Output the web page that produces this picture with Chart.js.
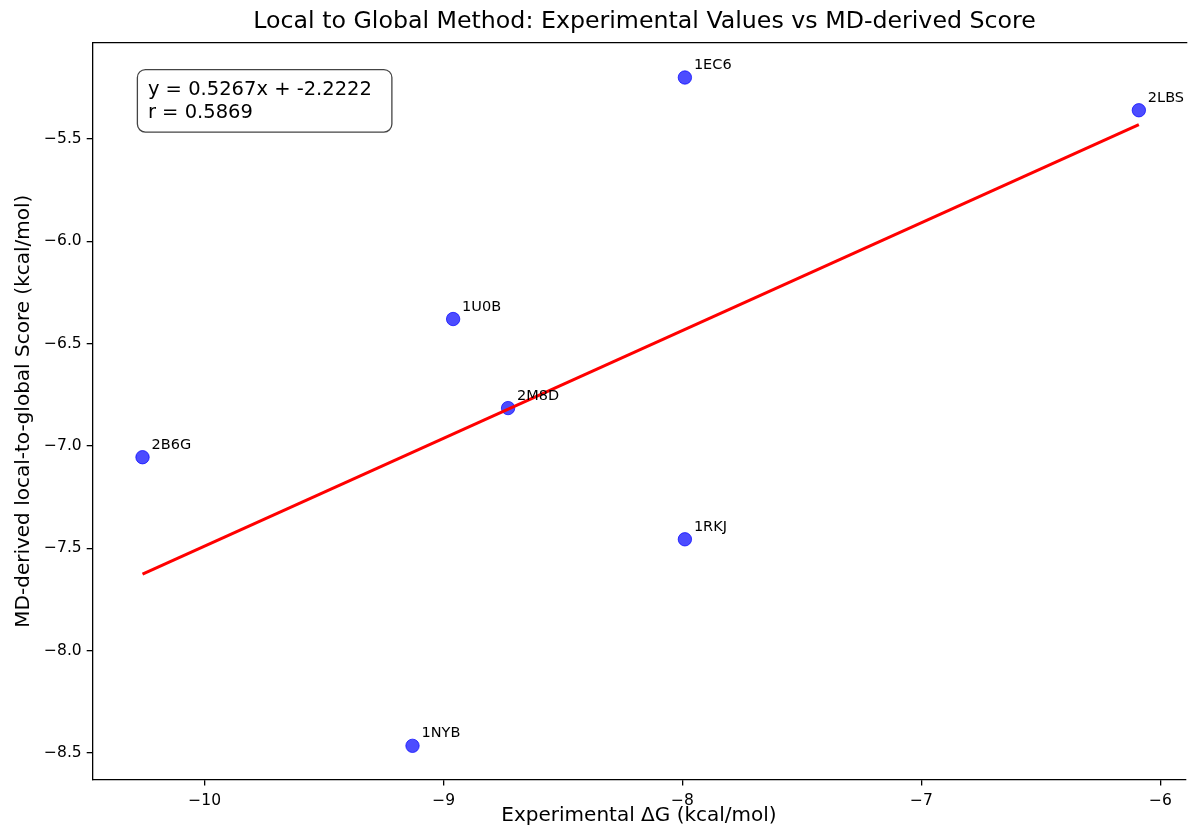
<!DOCTYPE html>
<html lang="en">
<head>
  <meta charset="UTF-8">
  <title>Local to Global Method</title>
  <script src="https://cdn.jsdelivr.net/npm/chart.js"></script>
  <style>
    body {
      margin: 0;
      padding: 0;
      background: #fff;
      overflow: hidden;
    }
    canvas {
      display: block;
    }
  </style>
</head>
<body>
  <canvas id="scatterChart" width="1193" height="832"></canvas>

  <script>
    // complexes and their values
    const pdbIds = ['1EC6', '2LBS', '1U0B', '2M8D', '2B6G', '1RKJ', '1NYB'];
    const experimentalDG = [-7.99, -6.09, -8.96, -8.73, -10.26, -7.99, -9.13];
    const mdScore = [-5.20, -5.36, -6.38, -6.815, -7.055, -7.456, -8.465];

    // fit line end points (y = 0.5267x + -2.2222)
    const fitX = [-10.26, -6.09];
    const fitY = [-7.626, -5.430];

    const fitText = ['y = 0.5267x + -2.2222', 'r = 0.5869'];
    const titleText = 'Local to Global Method: Experimental Values vs MD-derived Score';

    const xTicks = [-10, -9, -8, -7, -6];
    const yTicks = [-8.5, -8.0, -7.5, -7.0, -6.5, -6.0, -5.5];

    const FONT = "'DejaVu Sans', sans-serif";
    // full axes width (right spine is just outside the picture)
    const AX_W = 1103.7;

    function minus(s) {
      return s.replace('-', '\u2212');
    }

    const extras = {
      id: 'extras',
      afterDatasetsDraw(chart) {
        const ctx = chart.ctx;
        const area = chart.chartArea;
        const xs = chart.scales.x;
        const ys = chart.scales.y;

        // title, centred over the axes
        ctx.save();
        ctx.fillStyle = '#000';
        ctx.font = '23.7px ' + FONT;
        ctx.textAlign = 'center';
        ctx.textBaseline = 'middle';
        ctx.fillText(titleText, area.left + AX_W / 2, 22);
        ctx.restore();

        // point labels
        ctx.save();
        ctx.fillStyle = '#000';
        ctx.font = '14.5px ' + FONT;
        ctx.textBaseline = 'alphabetic';
        ctx.textAlign = 'left';
        pdbIds.forEach((id, i) => {
          const px = xs.getPixelForValue(experimentalDG[i]);
          const py = ys.getPixelForValue(mdScore[i]);
          ctx.fillText(id, px + 9, py - 8.5);
        });
        ctx.restore();

        // equation box (axes fraction 0.05, 0.95)
        const tx = area.left + 0.05 * AX_W;
        const ty = area.bottom - 0.95 * (area.bottom - area.top);
        ctx.save();
        ctx.beginPath();
        ctx.roundRect(tx - 10.5, ty - 10, 254.5, 62.5, 8);
        ctx.fillStyle = 'rgba(255,255,255,0.85)';
        ctx.fill();
        ctx.lineWidth = 1.3;
        ctx.strokeStyle = '#444';
        ctx.stroke();
        ctx.fillStyle = '#000';
        ctx.font = '19.5px ' + FONT;
        ctx.textBaseline = 'alphabetic';
        ctx.fillText(fitText[0], tx, ty + 15.5);
        ctx.fillText(fitText[1], tx, ty + 38);
        ctx.restore();

        // top spine
        ctx.save();
        ctx.strokeStyle = '#000';
        ctx.lineWidth = 1.3;
        ctx.beginPath();
        ctx.moveTo(area.left, area.top);
        ctx.lineTo(area.right + 2, area.top);
        ctx.stroke();
        ctx.restore();
      }
    };

    const points = experimentalDG.map((x, i) => ({ x: x, y: mdScore[i] }));
    const fitPoints = fitX.map((x, i) => ({ x: x, y: fitY[i] }));

    new Chart(document.getElementById('scatterChart').getContext('2d'), {
      type: 'scatter',
      data: {
        datasets: [
          {
            label: 'Fit',
            data: fitPoints,
            showLine: true,
            borderColor: '#ff0000',
            borderWidth: 3,
            pointRadius: 0,
            order: 0
          },
          {
            label: 'Data',
            data: points,
            backgroundColor: 'rgba(0,0,255,0.7)',
            borderColor: 'rgba(0,0,255,0.7)',
            borderWidth: 1,
            pointRadius: 6.7,
            order: 1
          }
        ]
      },
      options: {
        responsive: false,
        animation: false,
        layout: { padding: { left: 0, right: 0, top: 42.7, bottom: 0 } },
        plugins: {
          legend: { display: false },
          tooltip: { enabled: false },
          title: { display: false }
        },
        scales: {
          x: {
            type: 'linear',
            min: -10.4685,
            max: -5.8956,
            afterBuildTicks(scale) {
              scale.ticks = xTicks.map(v => ({ value: v }));
            },
            afterFit(scale) { scale.height = 52.4; },
            grid: {
              drawOnChartArea: false,
              drawTicks: true,
              tickLength: 6,
              color: '#000',
              lineWidth: 1.3
            },
            border: { display: true, color: '#000', width: 1.3 },
            ticks: {
              color: '#000',
              padding: 6,
              maxRotation: 0,
              font: { family: FONT, size: 15.5 },
              callback: v => minus(String(v))
            },
            title: {
              display: true,
              text: 'Experimental \u0394G (kcal/mol)',
              color: '#000',
              font: { family: FONT, size: 20 },
              padding: { top: 0, bottom: 4 }
            }
          },
          y: {
            type: 'linear',
            min: -8.63,
            max: -5.03,
            afterBuildTicks(scale) {
              scale.ticks = yTicks.map(v => ({ value: v }));
            },
            afterFit(scale) { scale.width = 92.7; },
            grid: {
              drawOnChartArea: false,
              drawTicks: true,
              tickLength: 6,
              color: '#000',
              lineWidth: 1.3
            },
            border: { display: true, color: '#000', width: 1.3 },
            ticks: {
              color: '#000',
              padding: 5,
              font: { family: FONT, size: 15.5 },
              callback: v => minus(v.toFixed(1))
            },
            title: {
              display: true,
              text: 'MD-derived local-to-global Score (kcal/mol)',
              color: '#000',
              font: { family: FONT, size: 20 },
              padding: { top: 12, bottom: 0 }
            }
          }
        }
      },
      plugins: [extras]
    });
  </script>
</body>
</html>
